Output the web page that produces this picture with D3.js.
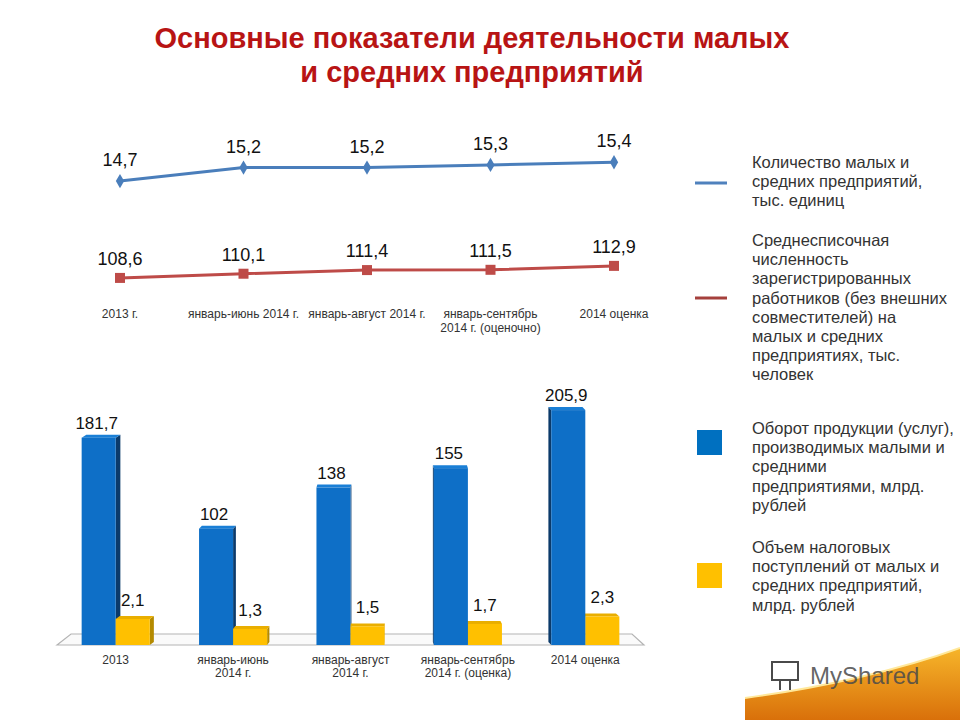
<!DOCTYPE html>
<meta charset="utf-8">
<style>
body { margin: 0; background: #fff; }
svg { display: block; font-family: "Liberation Sans", Arial, sans-serif; }
.title { fill: #B81414; font-weight: bold; font-size: 29px; }
.cat { fill: #333; font-size: 12px; }
.val { fill: #111; }
.legend text { fill: #333; font-size: 16.5px; }
</style>
<body>
<svg width="960" height="720"></svg>
<script src="https://cdn.jsdelivr.net/npm/d3@7"></script>
<script>

// --- data ---
var titleLines = ["Основные показатели деятельности малых", "и средних предприятий"];

var lineCats = ["2013 г.", "январь-июнь 2014 г.", "январь-август 2014 г.", "январь-сентябрь\n2014 г. (оценочно)", "2014 оценка"];
var enterprises = [14.7, 15.2, 15.2, 15.3, 15.4];
var workers = [108.6, 110.1, 111.4, 111.5, 112.9];

var barCats = ["2013", "январь-июнь\n2014 г.", "январь-август\n2014 г.", "январь-сентябрь\n2014 г. (оценка)", "2014 оценка"];
var turnover = [181.7, 102, 138, 155, 205.9];
var taxes = [2.1, 1.3, 1.5, 1.7, 2.3];

var legendLabels = [
  "Количество малых и\nсредних предприятий,\nтыс. единиц",
  "Среднесписочная\nчисленность\nзарегистрированных\nработников (без внешних\nсовместителей) на\nмалых и средних\nпредприятиях, тыс.\nчеловек",
  "Оборот продукции (услуг),\nпроизводимых  малыми и\nсредними\nпредприятиями, млрд.\nрублей",
  "Объем налоговых\nпоступлений от малых и\nсредних предприятий,\nмлрд. рублей"
];

var svg = d3.select("svg");

function fmt(v) {
  return Number.isInteger(v) ? String(v) : v.toFixed(1).replace(".", ",");
}

function multiline(sel, str, lh) {
  str.split("\n").forEach(function(s, i) {
    sel.append("tspan").attr("x", sel.attr("x")).attr("dy", i ? lh : 0).text(s);
  });
}

// --- title ---
titleLines.forEach(function(t, i) {
  svg.append("text")
      .attr("class", "title")
      .attr("x", 472)
      .attr("y", 48 + i * 34)
      .attr("text-anchor", "middle")
      .text(t);
});

// --- line chart ---
var xl = d3.scalePoint().domain(d3.range(lineCats.length)).range([120, 614]);
var yBlue = d3.scaleLinear().domain([14, 16]).range([200, 146]);
var yRed = d3.scaleLinear().domain([100, 120]).range([302, 246]);

var lg = svg.append("g");

lg.append("path")
    .datum(enterprises)
    .attr("fill", "none")
    .attr("stroke", "#4A7EBB")
    .attr("stroke-width", 3)
    .attr("d", d3.line().x(function(d, i) { return xl(i); }).y(function(d) { return yBlue(d); }));

lg.selectAll(".dia")
    .data(enterprises)
  .enter().append("path")
    .attr("transform", function(d, i) { return "translate(" + xl(i) + "," + yBlue(d) + ")"; })
    .attr("d", d3.symbol(d3.symbolDiamond, 60))
    .attr("fill", "#4A7EBB");

lg.selectAll(".bl")
    .data(enterprises)
  .enter().append("text")
    .attr("class", "val")
    .attr("x", function(d, i) { return xl(i); })
    .attr("y", function(d) { return yBlue(d) - 15; })
    .attr("text-anchor", "middle")
    .attr("font-size", 18)
    .text(fmt);

lg.append("path")
    .datum(workers)
    .attr("fill", "none")
    .attr("stroke", "#BE4B48")
    .attr("stroke-width", 3)
    .attr("d", d3.line().x(function(d, i) { return xl(i); }).y(function(d) { return yRed(d); }));

lg.selectAll(".sq")
    .data(workers)
  .enter().append("rect")
    .attr("x", function(d, i) { return xl(i) - 5; })
    .attr("y", function(d) { return yRed(d) - 5; })
    .attr("width", 10)
    .attr("height", 10)
    .attr("fill", "#BE4B48");

lg.selectAll(".rl")
    .data(workers)
  .enter().append("text")
    .attr("class", "val")
    .attr("x", function(d, i) { return xl(i); })
    .attr("y", function(d) { return yRed(d) - 13; })
    .attr("text-anchor", "middle")
    .attr("font-size", 18)
    .text(fmt);

lineCats.forEach(function(c, i) {
  var t = lg.append("text")
      .attr("class", "cat")
      .attr("x", xl(i))
      .attr("y", 318)
      .attr("text-anchor", "middle");
  multiline(t, c, 14);
});

// --- 3D bar chart ---
var x0 = d3.scaleBand().domain(barCats).range([57, 644]).paddingInner(0.42).paddingOuter(0.21);
var x1 = d3.scaleBand().domain(["turnover", "tax"]).range([0, x0.bandwidth()]);
var yTurn = d3.scaleLinear().domain([0, 220]).range([645, 394]);
var yTax = d3.scaleLinear().domain([0, 10]).range([645, 521]);

var bg = svg.append("g");
var depth = 11, vanish = 390;

// floor
bg.append("path")
    .attr("d", "M" + x0.range()[0] + "," + yTurn(0) +
               "L" + (x0.range()[0] + 14) + "," + (yTurn(0) - depth) +
               "L" + (x0.range()[1] - 12) + "," + (yTurn(0) - depth) +
               "L" + x0.range()[1] + "," + yTurn(0) + "Z")
    .attr("fill", "#fafafa")
    .attr("stroke", "#b4b4b4")
    .attr("stroke-width", 1.2);

function bar3d(g, x, w, top, bottom, c) {
  var cx = x + w / 2;
  var dx = -(cx - vanish) * 0.016, dy = 3;
  var sx = dx > 0 ? x + w : x;
  g.append("path")
      .attr("d", "M" + sx + "," + top + "L" + (sx + dx) + "," + (top - dy) +
                 "L" + (sx + dx) + "," + (bottom - dy) + "L" + sx + "," + bottom + "Z")
      .attr("fill", c.side);
  g.append("path")
      .attr("d", "M" + x + "," + top + "L" + (x + dx) + "," + (top - dy) +
                 "L" + (x + w + dx) + "," + (top - dy) + "L" + (x + w) + "," + top + "Z")
      .attr("fill", c.top);
  g.append("rect")
      .attr("x", x).attr("y", top)
      .attr("width", w).attr("height", bottom - top)
      .attr("fill", c.face);
}

var blueC = { face: "#0E6FC7", side: "#0B3A6A", top: "#1A7FD6" };
var goldC = { face: "#FFC000", side: "#B48A00", top: "#E9AE00" };

barCats.forEach(function(c, i) {
  var g = bg.append("g");
  var bx = x0(c) + x1("turnover"), tx = x0(c) + x1("tax");
  var order = (x0(c) + x0.bandwidth() / 2 < vanish) ? ["turnover", "tax"] : ["tax", "turnover"];
  order.forEach(function(k) {
    if (k === "turnover") bar3d(g, bx, x1.bandwidth(), yTurn(turnover[i]), yTurn(0), blueC);
    else bar3d(g, tx, x1.bandwidth(), yTax(taxes[i]), yTax(0), goldC);
  });

  g.append("text")
      .attr("class", "val")
      .attr("x", bx + x1.bandwidth() / 2 - 2)
      .attr("y", yTurn(turnover[i]) - 9)
      .attr("text-anchor", "middle")
      .attr("font-size", 17)
      .text(fmt(turnover[i]));

  g.append("text")
      .attr("class", "val")
      .attr("x", tx + x1.bandwidth() / 2)
      .attr("y", yTax(taxes[i]) - 13)
      .attr("text-anchor", "middle")
      .attr("font-size", 17)
      .text(fmt(taxes[i]));

  var t = g.append("text")
      .attr("class", "cat")
      .attr("x", x0(c) + x0.bandwidth() / 2)
      .attr("y", 664)
      .attr("text-anchor", "middle");
  multiline(t, c, 13);
});

// --- legend ---
var leg = svg.append("g").attr("class", "legend");
var legTop = [163, 241, 429, 548];
var legMarks = [
  { type: "line", color: "#4F81BD", y: 183 },
  { type: "line", color: "#A5403C", y: 298 },
  { type: "rect", color: "#0070C0", y: 430 },
  { type: "rect", color: "#FFC000", y: 563 }
];

legendLabels.forEach(function(lab, i) {
  var m = legMarks[i];
  if (m.type === "line") {
    leg.append("line")
        .attr("x1", 695).attr("x2", 727)
        .attr("y1", m.y).attr("y2", m.y)
        .attr("stroke", m.color)
        .attr("stroke-width", 3);
  } else {
    leg.append("rect")
        .attr("x", 697).attr("y", m.y)
        .attr("width", 25).attr("height", 25)
        .attr("fill", m.color);
  }
  var t = leg.append("text")
      .attr("x", 752)
      .attr("y", legTop[i] + 5);
  multiline(t, lab, 19.2);
});

// --- watermark corner ---
var defs = svg.append("defs");
var grad = defs.append("linearGradient").attr("id", "og").attr("x1", 0).attr("y1", 0).attr("x2", 0).attr("y2", 1);
grad.append("stop").attr("offset", 0).attr("stop-color", "#F6B52A");
grad.append("stop").attr("offset", 1).attr("stop-color", "#D9700A");

svg.append("path")
    .attr("d", "M745,720 L745,698 C820,688 900,670 960,648 L960,720 Z")
    .attr("fill", "url(#og)");
svg.append("path")
    .attr("d", "M745,698 C820,688 900,670 960,648")
    .attr("fill", "none")
    .attr("stroke", "#FFE89A")
    .attr("stroke-width", 2);

svg.append("text")
    .attr("x", 810)
    .attr("y", 684)
    .attr("font-size", 24)
    .attr("fill", "#4a4a4a")
    .attr("fill-opacity", 0.85)
    .text("MyShared");

var logo = svg.append("g").attr("fill", "none").attr("stroke", "#4a4a4a").attr("stroke-width", 2);
logo.append("rect").attr("x", 772).attr("y", 662).attr("width", 26).attr("height", 18);
logo.append("line").attr("x1", 780).attr("x2", 780).attr("y1", 680).attr("y2", 690);
logo.append("line").attr("x1", 790).attr("x2", 790).attr("y1", 680).attr("y2", 690);

</script>
</body>
